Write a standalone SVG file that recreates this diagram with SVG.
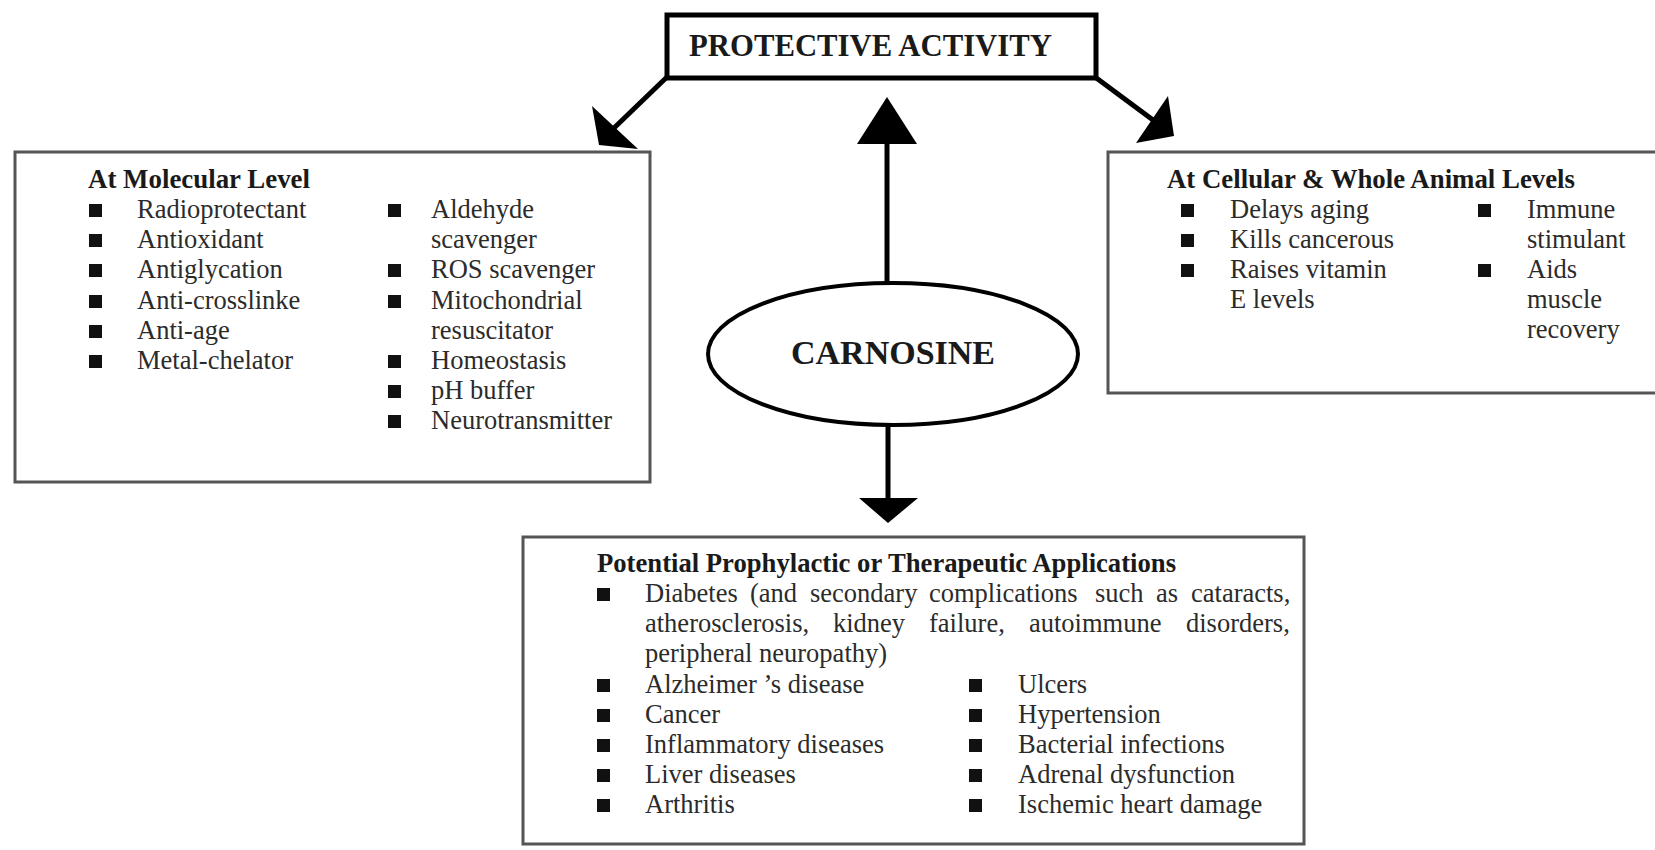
<svg xmlns="http://www.w3.org/2000/svg" width="1655" height="850" viewBox="0 0 1655 850">
<defs>
<style>
.box{fill:#fff;stroke:#555;stroke-width:3}
.hd{font-family:"Liberation Serif","Times New Roman",serif;font-weight:bold;font-size:27px;fill:#1a1a1a}
.tx{font-family:"Liberation Serif","Times New Roman",serif;font-size:26.5px;fill:#2b2b2b}
.bl{fill:#111}
.ln{stroke:#000;stroke-width:5;fill:none}
.ah{fill:#000}
</style>
<rect id="bul" width="13" height="13"/>
</defs>
<rect width="1655" height="850" fill="#fff"/>

<g id="connectors">
<line class="ln" x1="667" y1="77" x2="614" y2="128"/>
<polygon class="ah" points="599,145 592,106 638,149"/>
<line class="ln" x1="1095" y1="77" x2="1153" y2="120"/>
<polygon class="ah" points="1174,136 1168,96 1136,143"/>
<line class="ln" x1="887" y1="287" x2="887" y2="142" stroke-width="6"/>
<polygon class="ah" points="887,97 857,144 917,144"/>
<line class="ln" x1="888" y1="425" x2="888" y2="500" stroke-width="6"/>
<polygon class="ah" points="859,498 918,498 888,523"/>
</g>

<g id="protective">
<rect x="667" y="15" width="429" height="63" fill="#fff" stroke="#000" stroke-width="5"/>
<text x="689" y="56" font-family="Liberation Serif,Times New Roman,serif" font-weight="bold" font-size="31" fill="#1a1a1a" textLength="363" lengthAdjust="spacingAndGlyphs">PROTECTIVE ACTIVITY</text>
</g>

<g id="carnosine">
<ellipse cx="893" cy="354" rx="185" ry="71" fill="#fff" stroke="#000" stroke-width="4"/>
<text x="893" y="364" text-anchor="middle" font-family="Liberation Serif,Times New Roman,serif" font-weight="bold" font-size="34" fill="#1a1a1a">CARNOSINE</text>
</g>

<g id="molecular">
<rect class="box" x="15" y="152" width="635" height="330"/>
<text class="hd" x="88" y="188" textLength="222" lengthAdjust="spacingAndGlyphs">At Molecular Level</text>
<g class="bl">
<use href="#bul" x="89" y="204"/><use href="#bul" x="89" y="234"/><use href="#bul" x="89" y="264"/>
<use href="#bul" x="89" y="295"/><use href="#bul" x="89" y="325"/><use href="#bul" x="89" y="355"/>
<use href="#bul" x="388" y="204"/><use href="#bul" x="388" y="264"/><use href="#bul" x="388" y="295"/>
<use href="#bul" x="388" y="355"/><use href="#bul" x="388" y="385"/><use href="#bul" x="388" y="415"/>
</g>
<text class="tx" x="137" y="218">Radioprotectant</text>
<text class="tx" x="137" y="248">Antioxidant</text>
<text class="tx" x="137" y="278">Antiglycation</text>
<text class="tx" x="137" y="309">Anti-crosslinke</text>
<text class="tx" x="137" y="339">Anti-age</text>
<text class="tx" x="137" y="369">Metal-chelator</text>
<text class="tx" x="431" y="218">Aldehyde</text>
<text class="tx" x="431" y="248">scavenger</text>
<text class="tx" x="431" y="278">ROS scavenger</text>
<text class="tx" x="431" y="309">Mitochondrial</text>
<text class="tx" x="431" y="339">resuscitator</text>
<text class="tx" x="431" y="369">Homeostasis</text>
<text class="tx" x="431" y="399">pH buffer</text>
<text class="tx" x="431" y="429">Neurotransmitter</text>
</g>

<g id="cellular">
<rect class="box" x="1108" y="152" width="560" height="241"/>
<text class="hd" x="1167" y="188" textLength="408" lengthAdjust="spacingAndGlyphs">At Cellular &amp; Whole Animal Levels</text>
<g class="bl">
<use href="#bul" x="1181" y="204"/><use href="#bul" x="1181" y="234"/><use href="#bul" x="1181" y="264"/>
<use href="#bul" x="1478" y="204"/><use href="#bul" x="1478" y="264"/>
</g>
<text class="tx" x="1230" y="218">Delays aging</text>
<text class="tx" x="1230" y="248">Kills cancerous</text>
<text class="tx" x="1230" y="278">Raises vitamin</text>
<text class="tx" x="1230" y="308">E levels</text>
<text class="tx" x="1527" y="218">Immune</text>
<text class="tx" x="1527" y="248">stimulant</text>
<text class="tx" x="1527" y="278">Aids</text>
<text class="tx" x="1527" y="308">muscle</text>
<text class="tx" x="1527" y="338">recovery</text>
</g>

<g id="applications">
<rect class="box" x="523" y="537" width="781" height="307"/>
<text class="hd" x="597" y="572" textLength="579" lengthAdjust="spacingAndGlyphs">Potential Prophylactic or Therapeutic Applications</text>
<g class="bl">
<use href="#bul" x="597" y="588"/>
<use href="#bul" x="597" y="679"/><use href="#bul" x="597" y="709"/><use href="#bul" x="597" y="739"/>
<use href="#bul" x="597" y="769"/><use href="#bul" x="597" y="799"/>
<use href="#bul" x="969" y="679"/><use href="#bul" x="969" y="709"/><use href="#bul" x="969" y="739"/>
<use href="#bul" x="969" y="769"/><use href="#bul" x="969" y="799"/>
</g>
<text class="tx" y="602"><tspan x="645">Diabetes</tspan><tspan x="750">(and</tspan><tspan x="810">secondary</tspan><tspan x="929">complications</tspan><tspan x="1095">such</tspan><tspan x="1156">as</tspan><tspan x="1191">cataracts,</tspan></text>
<text class="tx" y="632"><tspan x="645">atherosclerosis,</tspan><tspan x="833">kidney</tspan><tspan x="929">failure,</tspan><tspan x="1029">autoimmune</tspan><tspan x="1186">disorders,</tspan></text>
<text class="tx" x="645" y="662">peripheral neuropathy)</text>
<text class="tx" x="645" y="693">Alzheimer ’s disease</text>
<text class="tx" x="645" y="723">Cancer</text>
<text class="tx" x="645" y="753">Inflammatory diseases</text>
<text class="tx" x="645" y="783">Liver diseases</text>
<text class="tx" x="645" y="813">Arthritis</text>
<text class="tx" x="1018" y="693">Ulcers</text>
<text class="tx" x="1018" y="723">Hypertension</text>
<text class="tx" x="1018" y="753">Bacterial infections</text>
<text class="tx" x="1018" y="783">Adrenal dysfunction</text>
<text class="tx" x="1018" y="813">Ischemic heart damage</text>
</g>
</svg>
